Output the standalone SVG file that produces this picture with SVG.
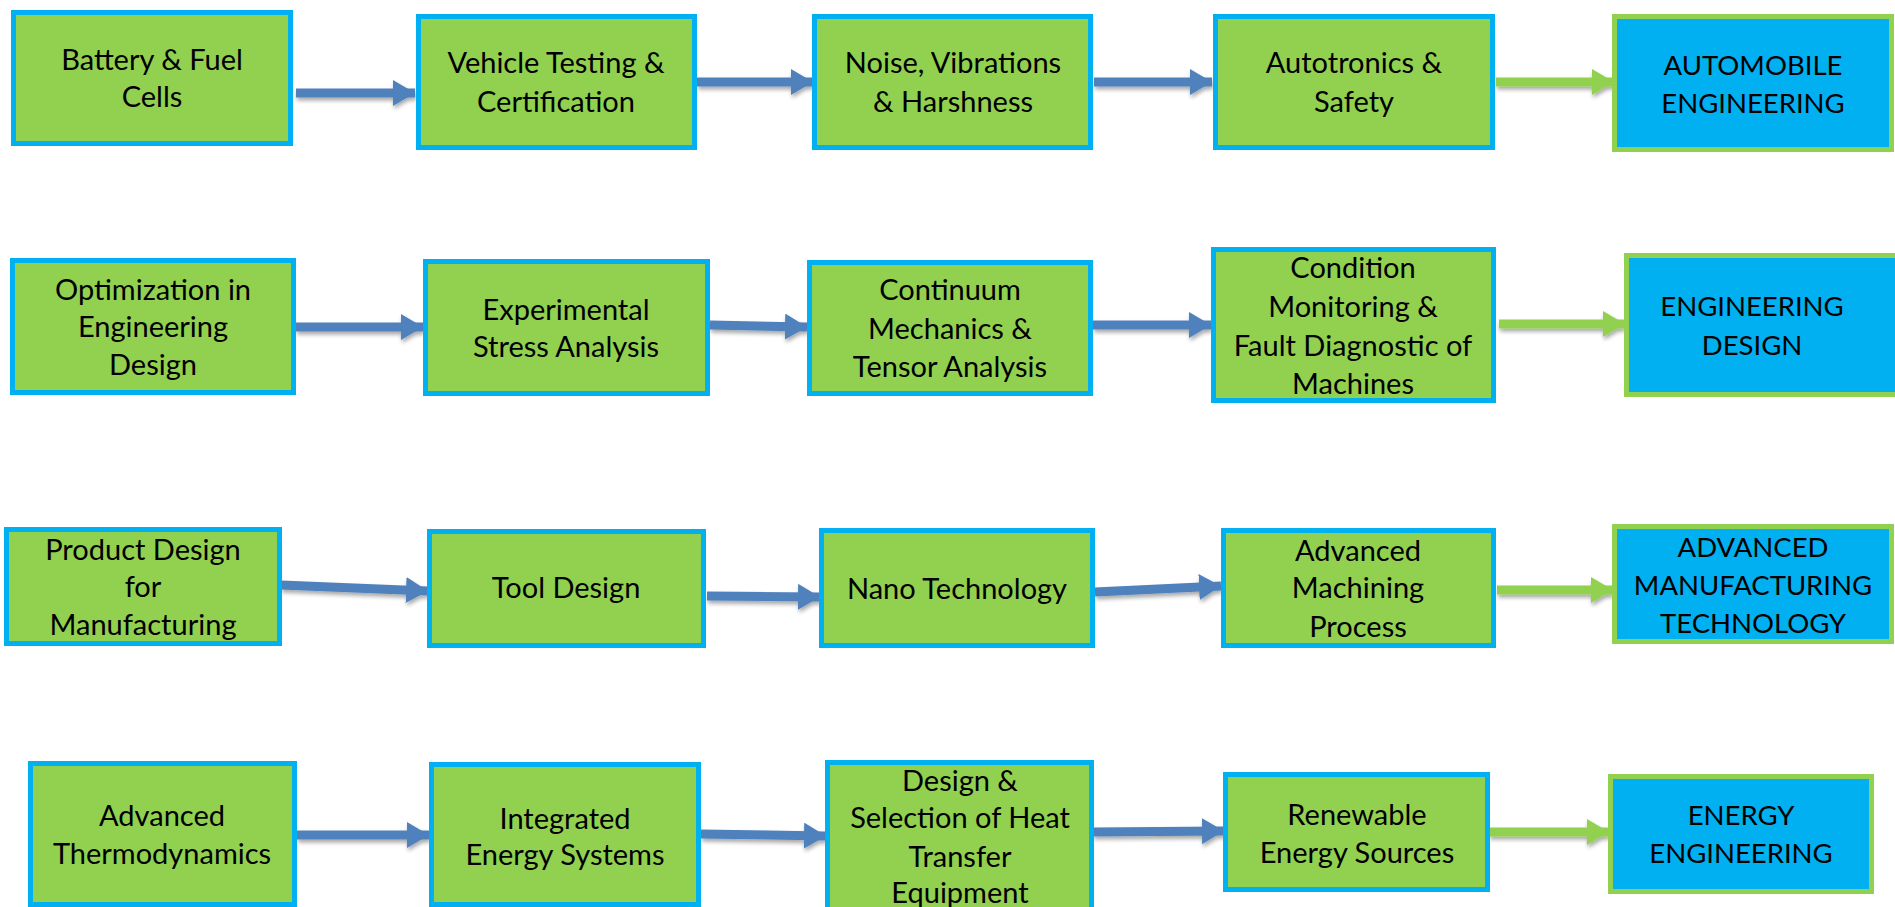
<svg xmlns="http://www.w3.org/2000/svg" width="1895" height="907" viewBox="0 0 1895 907">
  <defs>
    <style>
      .step rect { fill: #92D050; stroke: #00B0F0; stroke-width: 5; }
      .goal rect { fill: #00B0F0; stroke: #92D050; stroke-width: 5; }
      text { font-family: Lato, "Noto Sans", sans-serif; font-size: 29px; fill: #000; text-anchor: middle; }
      .goal text { font-size: 27.5px; }
      .blue { stroke: #4F81BD; stroke-width: 9; fill: none; marker-end: url(#headBlue); }
      .green { stroke: #92D050; stroke-width: 9; fill: none; marker-end: url(#headGreen); }
    </style>
    <marker id="headBlue" markerUnits="userSpaceOnUse" markerWidth="24" markerHeight="26" refX="22" refY="13" orient="auto">
      <path d="M0,0 L22,13 L0,26 z" fill="#4F81BD"/>
    </marker>
    <marker id="headGreen" markerUnits="userSpaceOnUse" markerWidth="24" markerHeight="26" refX="22" refY="13" orient="auto">
      <path d="M0,0 L22,13 L0,26 z" fill="#92D050"/>
    </marker>
    <filter id="shadow" x="-10%" y="-60%" width="120%" height="220%">
      <feGaussianBlur in="SourceAlpha" stdDeviation="2"/>
      <feOffset dx="1" dy="3" result="blur"/>
      <feComponentTransfer><feFuncA type="linear" slope="0.35"/></feComponentTransfer>
      <feMerge><feMergeNode/><feMergeNode in="SourceGraphic"/></feMerge>
    </filter>
  </defs>
  <rect width="1895" height="907" fill="#fff"/>

  <!-- connectors -->
  <g id="connectors" filter="url(#shadow)">
    <line class="blue" x1="296" y1="93" x2="415" y2="93"/>
    <line class="blue" x1="697" y1="82" x2="813" y2="82"/>
    <line class="blue" x1="1094" y1="82" x2="1212" y2="82"/>
    <line class="green" x1="1496" y1="82" x2="1614" y2="82"/>

    <line class="blue" x1="296" y1="327" x2="423" y2="327"/>
    <line class="blue" x1="710" y1="325" x2="807" y2="327"/>
    <line class="blue" x1="1093" y1="325" x2="1211" y2="325"/>
    <line class="green" x1="1499" y1="324" x2="1625" y2="324"/>

    <line class="blue" x1="281" y1="585" x2="428" y2="591"/>
    <line class="blue" x1="707" y1="596" x2="820" y2="597"/>
    <line class="blue" x1="1095" y1="592" x2="1221" y2="586"/>
    <line class="green" x1="1497" y1="590" x2="1613" y2="590"/>

    <line class="blue" x1="297" y1="835" x2="429" y2="835"/>
    <line class="blue" x1="701" y1="834" x2="826" y2="836"/>
    <line class="blue" x1="1093" y1="832" x2="1224" y2="831"/>
    <line class="green" x1="1489" y1="832" x2="1609" y2="832"/>
  </g>

  <!-- row 1 -->
  <g id="battery" class="step">
    <rect x="13.5" y="12.5" width="277" height="131"/>
    <text x="152" y="70">Battery &amp; Fuel</text>
    <text x="152" y="107">Cells</text>
  </g>
  <g id="vehicle-testing" class="step">
    <rect x="418.5" y="16.5" width="276" height="131"/>
    <text x="556" y="73">Vehicle Testing &amp;</text>
    <text x="556" y="112">Certification</text>
  </g>
  <g id="nvh" class="step">
    <rect x="814.5" y="16.5" width="276" height="131"/>
    <text x="953" y="73">Noise, Vibrations</text>
    <text x="953" y="112">&amp; Harshness</text>
  </g>
  <g id="autotronics" class="step">
    <rect x="1215.5" y="16.5" width="277" height="131"/>
    <text x="1354" y="73">Autotronics &amp;</text>
    <text x="1354" y="112">Safety</text>
  </g>
  <g id="automobile" class="goal">
    <rect x="1614.5" y="16.5" width="277" height="133"/>
    <text x="1753" y="75">AUTOMOBILE</text>
    <text x="1753" y="113">ENGINEERING</text>
  </g>

  <!-- row 2 -->
  <g id="optimization" class="step">
    <rect x="12.5" y="260.5" width="281" height="132"/>
    <text x="153" y="300">Optimization in</text>
    <text x="153" y="337">Engineering</text>
    <text x="153" y="375">Design</text>
  </g>
  <g id="stress-analysis" class="step">
    <rect x="425.5" y="261.5" width="282" height="132"/>
    <text x="566" y="320">Experimental</text>
    <text x="566" y="357">Stress Analysis</text>
  </g>
  <g id="continuum" class="step">
    <rect x="809.5" y="262.5" width="281" height="131"/>
    <text x="950" y="300">Continuum</text>
    <text x="950" y="339">Mechanics &amp;</text>
    <text x="950" y="377">Tensor Analysis</text>
  </g>
  <g id="condition-monitoring" class="step">
    <rect x="1213.5" y="249.5" width="280" height="151"/>
    <text x="1353" y="278">Condition</text>
    <text x="1353" y="317">Monitoring &amp;</text>
    <text x="1353" y="356">Fault Diagnostic of</text>
    <text x="1353" y="394">Machines</text>
  </g>
  <g id="engineering-design" class="goal">
    <rect x="1626.5" y="255.5" width="280" height="139"/>
    <text x="1752" y="316">ENGINEERING</text>
    <text x="1752" y="355">DESIGN</text>
  </g>

  <!-- row 3 -->
  <g id="product-design" class="step">
    <rect x="6.5" y="529.5" width="273" height="114"/>
    <text x="143" y="560">Product Design</text>
    <text x="143" y="597">for</text>
    <text x="143" y="635">Manufacturing</text>
  </g>
  <g id="tool-design" class="step">
    <rect x="429.5" y="531.5" width="274" height="114"/>
    <text x="566" y="598">Tool Design</text>
  </g>
  <g id="nano" class="step">
    <rect x="821.5" y="530.5" width="271" height="115"/>
    <text x="957" y="599">Nano Technology</text>
  </g>
  <g id="machining" class="step">
    <rect x="1223.5" y="530.5" width="270" height="115"/>
    <text x="1358" y="561">Advanced</text>
    <text x="1358" y="598">Machining</text>
    <text x="1358" y="637">Process</text>
  </g>
  <g id="manufacturing-tech" class="goal">
    <rect x="1614.5" y="526.5" width="277" height="115"/>
    <text x="1753" y="557">ADVANCED</text>
    <text x="1753" y="595">MANUFACTURING</text>
    <text x="1753" y="633">TECHNOLOGY</text>
  </g>

  <!-- row 4 -->
  <g id="thermodynamics" class="step">
    <rect x="30.5" y="763.5" width="264" height="141"/>
    <text x="162" y="826">Advanced</text>
    <text x="162" y="864">Thermodynamics</text>
  </g>
  <g id="energy-systems" class="step">
    <rect x="431.5" y="764.5" width="267" height="140"/>
    <text x="565" y="829">Integrated</text>
    <text x="565" y="865">Energy Systems</text>
  </g>
  <g id="heat-transfer" class="step">
    <rect x="827.5" y="762.5" width="264" height="150"/>
    <text x="960" y="791">Design &amp;</text>
    <text x="960" y="828">Selection of Heat</text>
    <text x="960" y="867">Transfer</text>
    <text x="960" y="903">Equipment</text>
  </g>
  <g id="renewable" class="step">
    <rect x="1225.5" y="774.5" width="262" height="115"/>
    <text x="1357" y="825">Renewable</text>
    <text x="1357" y="863">Energy Sources</text>
  </g>
  <g id="energy-engineering" class="goal">
    <rect x="1610.5" y="776.5" width="261" height="115"/>
    <text x="1741" y="825">ENERGY</text>
    <text x="1741" y="863">ENGINEERING</text>
  </g>
</svg>
